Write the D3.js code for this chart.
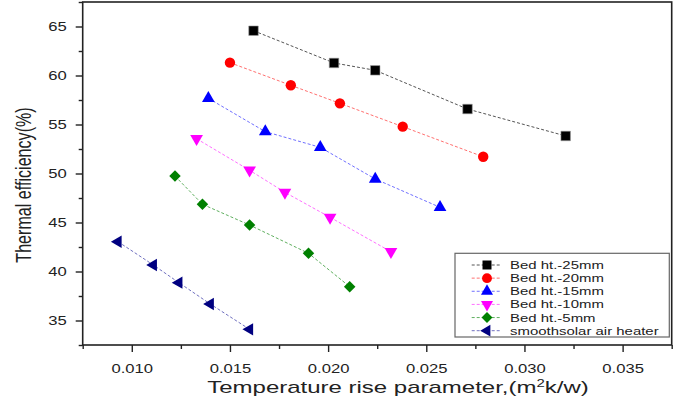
<!DOCTYPE html>
<html>
<head>
<meta charset="utf-8">
<script src="https://cdn.jsdelivr.net/npm/d3@7"></script>
<style>
  html, body { margin: 0; padding: 0; background: #fff; }
  svg { display: block; font-family: "Liberation Sans", Arial, sans-serif; }
</style>
</head>
<body>
<svg id="chart" width="682" height="402"></svg>
<script>
// Thermal efficiency vs. temperature rise parameter, one series per bed height
const xTicks = [0.010, 0.015, 0.020, 0.025, 0.030, 0.035];
const yTicks = [35, 40, 45, 50, 55, 60, 65];

const bed25 = [[0.0162, 64.57], [0.0203, 61.28], [0.0224, 60.53], [0.0271, 56.58], [0.0321, 53.83]];
const bed20 = [[0.0150, 61.31], [0.0181, 59.00], [0.0206, 57.16], [0.0238, 54.78], [0.0279, 51.71]];
const bed15 = [[0.0139, 57.67], [0.0168, 54.27], [0.0196, 52.67], [0.0224, 49.44], [0.0257, 46.55]];
const bed10 = [[0.0133, 53.55], [0.0160, 50.33], [0.0178, 48.08], [0.0201, 45.53], [0.0232, 42.02]];
const bed5  = [[0.0122, 49.74], [0.0136, 46.86], [0.0160, 44.74], [0.0190, 41.86], [0.0211, 38.45]];
const smooth = [[0.0093, 43.04], [0.0111, 40.66], [0.0124, 38.86], [0.0140, 36.68], [0.0160, 34.10]];

const seriesNames = ["Bed ht.-25mm", "Bed ht.-20mm", "Bed ht.-15mm", "Bed ht.-10mm", "Bed ht.-5mm", "smoothsolar air heater"];
const seriesData = [bed25, bed20, bed15, bed10, bed5, smooth];

const markerColors = ["#000000", "#ff0000", "#0000ff", "#ff00ff", "#008000", "#000080"];
const lineColors   = ["#555555", "#ff7070", "#7070ff", "#ff70ff", "#60b060", "#7070c0"];

// marker: symbol type, area, rotation
const markers = [
  { type: d3.symbolSquare,   size: 90, rot: 0 },
  { type: d3.symbolCircle,   size: 85, rot: 0 },
  { type: d3.symbolTriangle, size: 70, rot: 0 },
  { type: d3.symbolTriangle, size: 70, rot: 180 },
  { type: d3.symbolSquare,   size: 66, rot: 45 },
  { type: d3.symbolTriangle, size: 66, rot: -90 }
];

const plot = { left: 82.7, top: 2, right: 671.7, bottom: 345 };
const tickStretch = 1.3;

const svg = d3.select("#chart");

const x = d3.scaleLinear().domain([0.0075, 0.0375]).range([plot.left, plot.right]);
const y = d3.scaleLinear().domain([32.5, 67.5]).range([plot.bottom, plot.top]);

const minorX = d3.range(0.0075, 0.0376, 0.005);
const minorY = d3.range(32.5, 67.6, 5);

// minor ticks
svg.append("g")
  .attr("transform", `translate(0,${plot.bottom})`)
  .call(d3.axisBottom(x).tickValues(minorX).tickSize(4).tickFormat(""))
  .call(g => g.select(".domain").remove())
  .call(g => g.selectAll("line").attr("stroke", "#222").attr("stroke-width", 1.4));

svg.append("g")
  .attr("transform", `translate(${plot.left},0)`)
  .call(d3.axisLeft(y).tickValues(minorY).tickSize(4).tickFormat(""))
  .call(g => g.select(".domain").remove())
  .call(g => g.selectAll("line").attr("stroke", "#222").attr("stroke-width", 1.4));

// major ticks and labels
const xAxis = svg.append("g")
  .attr("transform", `translate(0,${plot.bottom})`)
  .call(d3.axisBottom(x).tickValues(xTicks).tickSize(7).tickPadding(12).tickFormat(d3.format(".3f")));
xAxis.select(".domain").remove();
xAxis.selectAll("line").attr("stroke", "#222").attr("stroke-width", 1.4);
xAxis.selectAll("text")
  .attr("font-size", 12.8)
  .attr("fill", "#222")
  .attr("font-family", "Liberation Sans, Arial, sans-serif")
  .attr("transform", `scale(${tickStretch},1)`);

const yAxis = svg.append("g")
  .attr("transform", `translate(${plot.left},0)`)
  .call(d3.axisLeft(y).tickValues(yTicks).tickSize(7).tickFormat(d3.format("d")));
yAxis.select(".domain").remove();
yAxis.selectAll("line").attr("stroke", "#222").attr("stroke-width", 1.4);
yAxis.selectAll("text")
  .attr("font-size", 12.8)
  .attr("fill", "#222")
  .attr("font-family", "Liberation Sans, Arial, sans-serif")
  .attr("x", -16 / tickStretch)
  .attr("transform", `scale(${tickStretch},1)`);

// frame
svg.append("rect")
  .attr("x", plot.left).attr("y", plot.top)
  .attr("width", plot.right - plot.left).attr("height", plot.bottom - plot.top)
  .attr("fill", "none").attr("stroke", "#222").attr("stroke-width", 1.6);

// series lines
const line = d3.line().x(d => x(d[0])).y(d => y(d[1]));

const series = svg.append("g").selectAll("g")
  .data(seriesData)
  .join("g");

series.append("path")
  .attr("d", d => line(d))
  .attr("fill", "none")
  .attr("stroke", (d, i) => lineColors[i])
  .attr("stroke-width", 1)
  .attr("stroke-dasharray", "3,2");

series.each(function (d, i) {
  const m = markers[i];
  d3.select(this).selectAll("path.pt")
    .data(d)
    .join("path")
    .attr("class", "pt")
    .attr("d", d3.symbol().type(m.type).size(m.size))
    .attr("transform", p => `translate(${x(p[0])},${y(p[1])}) rotate(${m.rot})`)
    .attr("fill", markerColors[i])
    .attr("stroke", i === 0 ? "#999" : "none")
    .attr("stroke-width", 0.6);
});

// axis titles
svg.append("text")
  .attr("transform", "translate(398,393) scale(1.5,1)")
  .attr("text-anchor", "middle")
  .attr("font-size", 16)
  .attr("fill", "#222")
  .call(t => {
    t.append("tspan").text("Temperature rise parameter,(m");
    t.append("tspan").attr("font-size", 10).attr("dy", -6).text("2");
    t.append("tspan").attr("dy", 6).text("k/w)");
  });

svg.append("text")
  .attr("transform", "translate(30.5,185) scale(1.33,1) rotate(-90)")
  .attr("text-anchor", "middle")
  .attr("font-size", 16.1)
  .attr("fill", "#222")
  .text("Thermal efficiency(%)");

// legend
const legend = svg.append("g");
legend.append("rect")
  .attr("x", 455).attr("y", 253.3)
  .attr("width", 669.3 - 455).attr("height", 337 - 253.3)
  .attr("fill", "#fff").attr("stroke", "#666").attr("stroke-width", 1.2);

const rowY = d3.scaleLinear().domain([0, 5]).range([265, 330.7]);
const rows = legend.selectAll("g.row")
  .data(seriesNames)
  .join("g")
  .attr("class", "row")
  .attr("transform", (d, i) => `translate(0,${rowY(i)})`);

rows.append("line")
  .attr("x1", 471.7).attr("x2", 500)
  .attr("stroke", (d, i) => lineColors[i])
  .attr("stroke-width", 1)
  .attr("stroke-dasharray", "3,2");

rows.append("path")
  .attr("d", (d, i) => d3.symbol().type(markers[i].type).size(markers[i].size * 0.9)())
  .attr("transform", (d, i) => `translate(487,0) rotate(${markers[i].rot})`)
  .attr("fill", (d, i) => markerColors[i]);

rows.append("text")
  .attr("transform", "translate(510,0) scale(1.3,1)")
  .attr("dy", "0.35em")
  .attr("font-size", 11.5)
  .attr("fill", "#222")
  .text(d => d);
</script>
</body>
</html>
